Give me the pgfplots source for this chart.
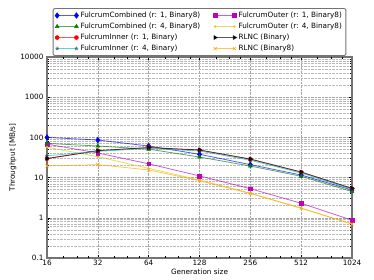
\documentclass[border=0pt]{standalone}
\usepackage{pgfplots}
\pgfplotsset{compat=1.18}
\usepackage{fontspec}
\setmainfont{DejaVu Sans}
\definecolor{mplb}{rgb}{0,0,1}
\definecolor{mplg}{rgb}{0,0.5,0}
\definecolor{mplr}{rgb}{1,0,0}
\definecolor{mplc}{rgb}{0,0.75,0.75}
\definecolor{mplm}{rgb}{0.75,0,0.75}
\definecolor{mply}{rgb}{0.85,0.8,0}
\definecolor{mplo}{rgb}{1,0.65,0}
\definecolor{framegray}{rgb}{0.45,0.45,0.45}
\begin{document}
\begin{tikzpicture}[font=\fontsize{7.3}{8.5}\selectfont]
\begin{axis}[
  scale only axis, width=305bp, height=201bp,
  xmode=log, log basis x=2, ymode=log,
  xmin=16, xmax=1024, ymin=0.1, ymax=10000,
  xtick={16,32,64,128,256,512,1024},
  xticklabels={16,32,64,128,256,512,1024},
  extra x ticks={20,24,28,40,48,56,80,96,112,160,192,224,320,384,448,640,768,896},
  extra x tick labels={},
  extra x tick style={grid=none, major tick length=2bp},
  ytick={0.1,1,10,100,1000,10000},
  yticklabels={0.1,1,10,100,1000,10000},
  xmajorgrids, ymajorgrids, yminorgrids,
  major grid style={densely dotted, gray!70, line width=0.5pt},
  minor grid style={densely dotted, gray!55, line width=0.5pt},
  tick align=inside, tick pos=both,
  major tick length=3.5bp, minor tick length=2bp,
  every tick/.style={black, line width=0.4pt},
  axis line style={framegray, line width=1.1pt},
  xlabel={Generation size}, ylabel={Throughput [MB/s]},
  xlabel style={yshift=4bp}, ylabel style={yshift=-3bp},
  xticklabel style={yshift=1bp}, 
  legend columns=2,
  legend cell align=left,
  legend style={at={(axis description cs:0.5,1)}, anchor=south, yshift=1bp,
    draw=framegray, line width=0.9pt, rounded corners=2bp,
    font=\fontsize{7.3}{8.5}\selectfont,
    inner xsep=2bp, inner ysep=1.5bp, row sep=0bp,
    /tikz/every even column/.append style={column sep=11bp}},
  legend image code/.code={\draw[mark repeat=1,#1] plot coordinates {(0cm,0cm) (0.68cm,0cm)};},
  every axis plot/.append style={line width=0.8pt, mark size=2.2bp, draw opacity=0.65,
    mark options={draw opacity=1, fill opacity=1, solid, line width=0.5pt}},
]
\addplot[mplb, mark=diamond*, mark size=2.8bp] coordinates {(16,100) (32,86) (64,61) (128,38) (256,21) (512,11.6) (1024,4.9)};
\addlegendentry{FulcrumCombined (r: 1, Binary8)}
\addplot[mplm, mark=square*, mark size=1.9bp] coordinates {(16,68) (32,41) (64,22) (128,11) (256,5.3) (512,2.3) (1024,0.87)};
\addlegendentry{FulcrumOuter (r: 1, Binary8)}
\addplot[mplg, mark=triangle*] coordinates {(16,71) (32,61) (64,51) (128,32.5) (256,19.4) (512,10.8) (1024,4.5)};
\addlegendentry{FulcrumCombined (r: 4, Binary8)}
\addplot[mply, mark=*, mark size=0.9bp] coordinates {(16,57) (32,33) (64,17) (128,8.7) (256,4.1) (512,1.72) (1024,0.70)};
\addlegendentry{FulcrumOuter (r: 4, Binary8)}
\addplot[mplr, mark=*, mark size=2bp] coordinates {(16,29.5) (32,46.7) (64,55.5) (128,48) (256,28.5) (512,13.6) (1024,5.3)};
\addlegendentry{FulcrumInner (r: 1, Binary)}
\addplot[black, mark=triangle*, mark options={rotate=-90}] coordinates {(16,30) (32,46.7) (64,56) (128,48.7) (256,29) (512,13.8) (1024,5.4)};
\addlegendentry{RLNC (Binary)}
\addplot[mplc, mark=star, mark size=1.8bp, mark options={draw=black!70!mplc, line width=0.9pt}] coordinates {(16,35) (32,45) (64,53) (128,46) (256,27) (512,13) (1024,5.1)};
\addlegendentry{FulcrumInner (r: 4, Binary)}
\addplot[mplo, mark=x, mark size=2.2bp] coordinates {(16,19.5) (32,21) (64,15.5) (128,8.4) (256,4.0) (512,1.75) (1024,0.70)};
\addlegendentry{RLNC (Binary8)}
\end{axis}
\path (-47bp,-22bp) rectangle (327bp,258bp);
\end{tikzpicture}
\end{document}
